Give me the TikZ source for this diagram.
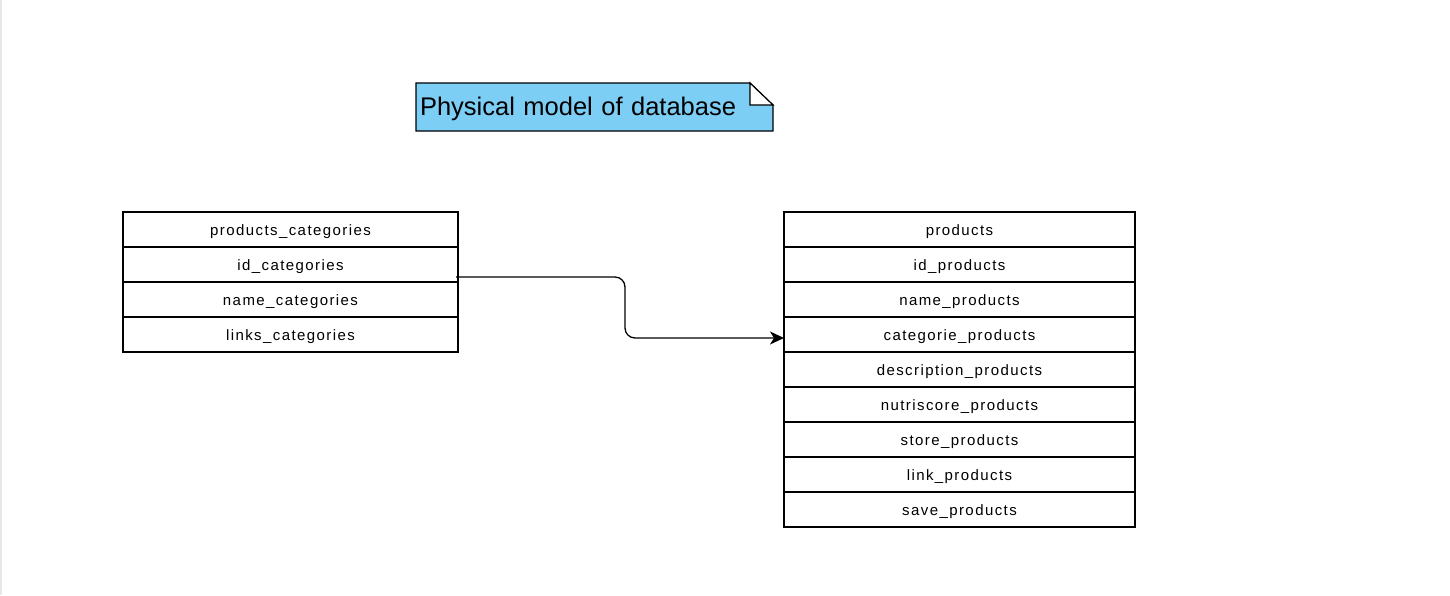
\documentclass[tikz,border=0pt]{standalone}
\usepackage{fontspec}
\setmainfont{Liberation Sans}
\newfontfamily\rowfont[LetterSpace=9.5]{Liberation Sans}
\usetikzlibrary{positioning,arrows.meta,backgrounds}
\definecolor{notefill}{HTML}{7DCEF4}

\begin{document}
\begin{tikzpicture}[x=1pt,y=-1pt,
    row/.style={draw,line width=1.2pt,outer sep=0pt,inner sep=0pt,minimum height=35pt,
      text height=15pt,text depth=3pt,font={\rowfont\fontsize{15pt}{18pt}\selectfont}},
    catrow/.style={row,minimum width=335pt},
    prodrow/.style={row,minimum width=351pt},
    link/.style={-{Stealth[length=14pt,width=13pt,inset=4pt]},line width=1.3pt,rounded corners=10pt}]
  \useasboundingbox (0,0) rectangle (1450,595);
  \fill[gray!18] (0,0) rectangle (2,595); % page edge
  % Title note
  \node[text width=349pt,align=left,inner xsep=4pt,inner ysep=0pt,minimum height=48pt,outer sep=0pt,
    text height=20pt,text depth=4pt,font=\fontsize{25.5pt}{30pt}\selectfont] (note) at (594.5,107)
    {Physical model of database};
  \begin{scope}[on background layer]
    \filldraw[fill=notefill,line width=1.2pt] (note.south west) -- (note.north west)
      -- ([xshift=-23pt]note.north east) -- ([yshift=-22pt]note.north east)
      -- (note.south east) -- cycle;
    \filldraw[fill=white,line width=1.2pt] ([xshift=-23pt]note.north east)
      -- ([xshift=-23pt,yshift=-22pt]note.north east) -- ([yshift=-22pt]note.north east) -- cycle;
  \end{scope}
  % Table products_categories
  \node[catrow] (cat1) at (290.5,229.5) {products\_categories};
  \node[catrow,below=0pt of cat1] (cat2) {id\_categories};
  \node[catrow,below=0pt of cat2] (cat3) {name\_categories};
  \node[catrow,below=0pt of cat3] (cat4) {links\_categories};
  % Table products
  \node[prodrow] (prod1) at (959.5,229.5) {products};
  \node[prodrow,below=0pt of prod1] (prod2) {id\_products};
  \node[prodrow,below=0pt of prod2] (prod3) {name\_products};
  \node[prodrow,below=0pt of prod3] (prod4) {categorie\_products};
  \node[prodrow,below=0pt of prod4] (prod5) {description\_products};
  \node[prodrow,below=0pt of prod5] (prod6) {nutriscore\_products};
  \node[prodrow,below=0pt of prod6] (prod7) {store\_products};
  \node[prodrow,below=0pt of prod7] (prod8) {link\_products};
  \node[prodrow,below=0pt of prod8] (prod9) {save\_products};
  % Foreign key
  \draw[link] ([xshift=-2pt,yshift=-12.5pt]cat2.east)
    -| ([xshift=-159pt,yshift=-3.5pt]prod4.west) -- ([yshift=-3.5pt]prod4.west);
\end{tikzpicture}
\end{document}
